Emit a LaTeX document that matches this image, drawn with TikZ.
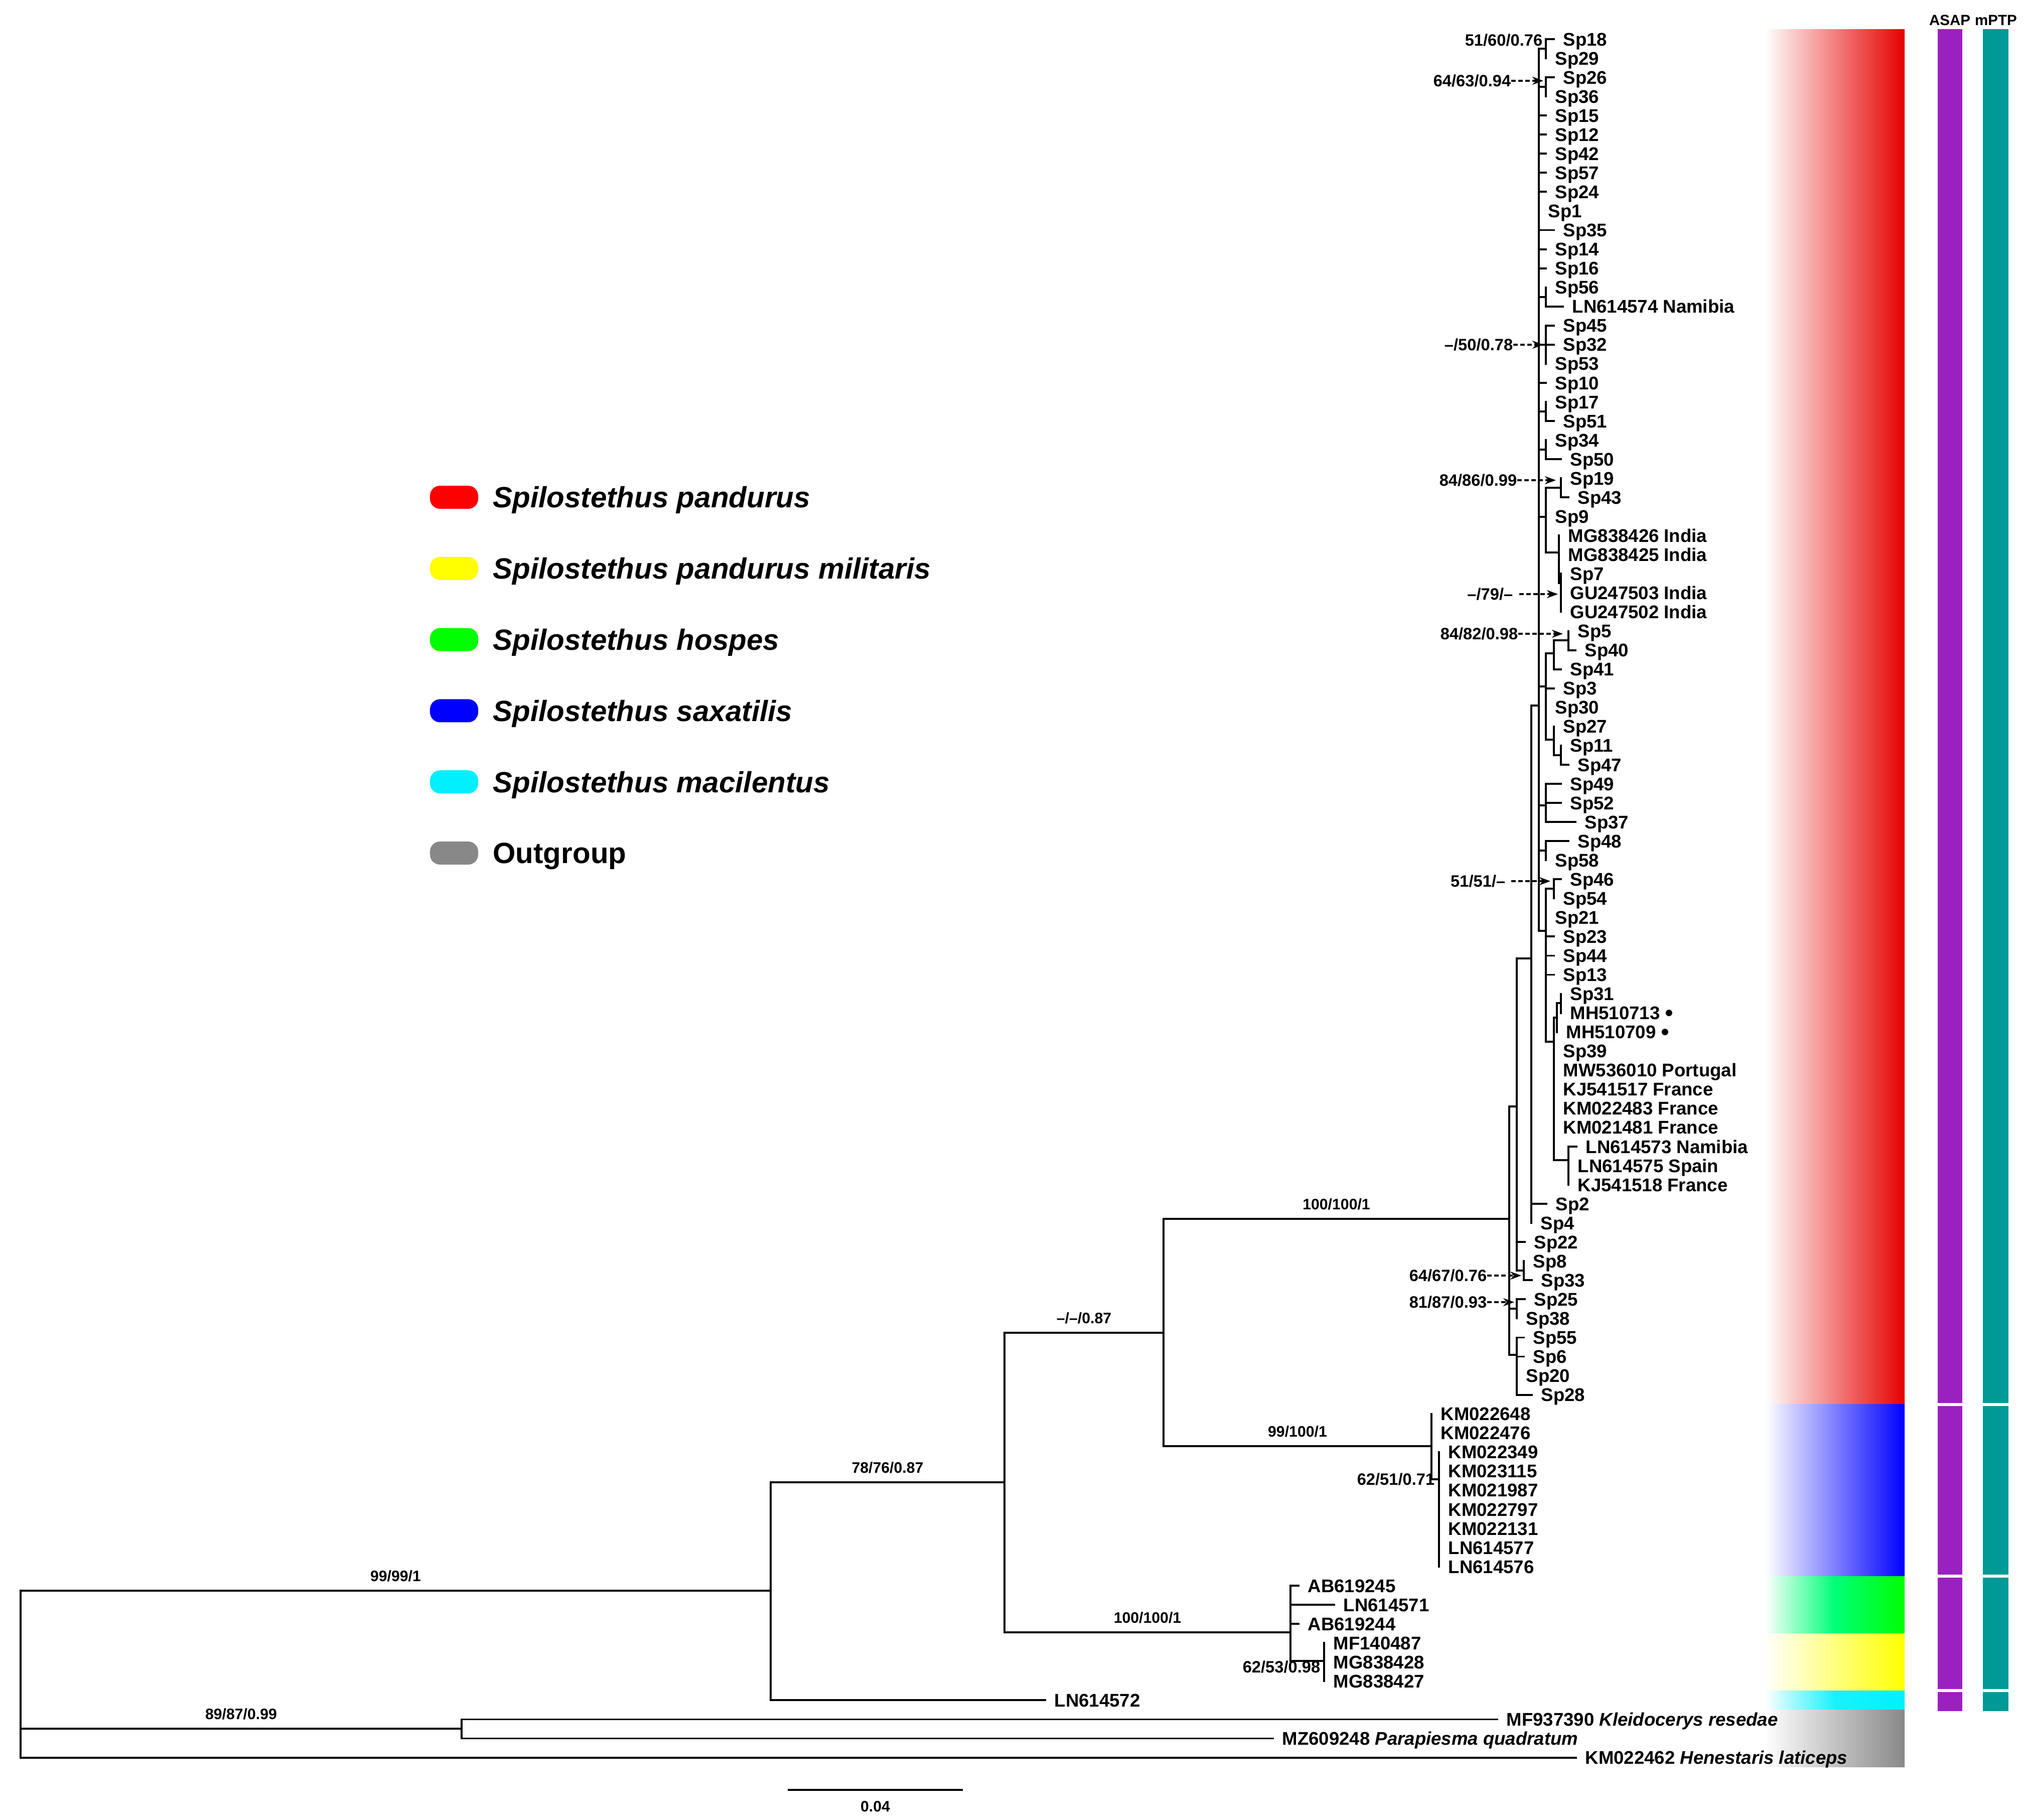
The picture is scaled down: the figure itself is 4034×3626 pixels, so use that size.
\documentclass[tikz,border=0pt]{standalone}
\usepackage{fontspec}
\setmainfont{Liberation Sans}
\usetikzlibrary{arrows.meta,positioning}

\definecolor{pandred}{RGB}{230,0,0}
\definecolor{saxblue}{RGB}{0,0,255}
\definecolor{hosgreen}{RGB}{0,255,0}
\definecolor{hosmid}{RGB}{0,255,120}
\definecolor{milyellow}{RGB}{255,255,0}
\definecolor{maccyan}{RGB}{0,240,255}
\definecolor{outgray}{RGB}{136,136,136}
\definecolor{legred}{RGB}{255,0,0}
\definecolor{asappurple}{RGB}{155,32,192}
\definecolor{mptpteal}{RGB}{0,154,150}

\newcommand{\leaffont}{\fontsize{10.4}{12}\selectfont\bfseries}
\newcommand{\supfont}{\fontsize{9.3}{11}\selectfont\bfseries}
\newcommand{\brfont}{\fontsize{8.6}{10}\selectfont\bfseries}
\newcommand{\legfont}{\fontsize{16.6}{19}\selectfont\bfseries}
\newcommand{\hdrfont}{\fontsize{8.4}{10}\selectfont\bfseries}

\tikzset{
	branch/.style={line width=1.1pt, line cap=rect},
	leaflab/.style={anchor=west, inner xsep=0.18cm, inner ysep=0pt, font=\leaffont, text height=9pt, text depth=1.55pt},
	suplab/.style={anchor=east, inner sep=0pt, font=\supfont, text height=6.7pt, text depth=0pt},
	brlab/.style={inner sep=0pt, font=\brfont, text height=6.2pt, text depth=0pt, above=0.17cm},
	suparrow/.style={line width=0.95pt, dash pattern=on 2.5pt off 1.5pt, -{Stealth[length=0.22cm, width=0.16cm]}},
	dotmark/.style={circle, fill=black, inner sep=0pt, minimum size=0.13cm},
	pill/.style={rounded corners=0.2cm, minimum width=0.96cm, minimum height=0.46cm, inner sep=0pt},
	legtext/.style={inner sep=0pt, font=\legfont, text height=11.9pt, text depth=0pt},
	hdrlab/.style={inner sep=0pt, font=\hdrfont}
}

\newcommand{\leaf}[4]{%
	\coordinate (#1) at (#2,{ry(#3)});
	\node[leaflab] (#1l) at (#1) {#4};%
}

\begin{document}
\begin{tikzpicture}[x=0.01cm, y=-0.01cm, declare function={ry(\k)=78+(\k-1)*38.05;}]
	\useasboundingbox (0,0) rectangle (4034,3626);

	\shade[left color=white, right color=pandred] (3517,58) rectangle (3796,2798.5);
	\shade[left color=white, right color=saxblue] (3517,2798.5) rectangle (3796,3141);
	\shade[left color=white, right color=hosgreen, middle color=hosmid] (3517,3141) rectangle (3796,3255);
	\shade[left color=white, right color=milyellow] (3517,3255) rectangle (3796,3369);
	\shade[left color=white, right color=maccyan, middle color=maccyan!90!white] (3517,3369) rectangle (3796,3407);
	\shade[left color=white, right color=outgray] (3517,3407) rectangle (3796,3521.5);

	\foreach \ya/\yb in {58/2795.5, 2801.5/3138, 3144/3366, 3372/3410} {
		\fill[asappurple] (3862,\ya) rectangle (3911,\yb);
		\fill[mptpteal] (3952,\ya) rectangle (4003,\yb);
	}
	\node[hdrlab] (asap) at (3886,40) {ASAP};
	\node[hdrlab] (mptp) at (3978,40) {mPTP};

	\foreach \col/\lab [count=\i] in {legred/\itshape Spilostethus pandurus, milyellow/\itshape Spilostethus pandurus militaris, hosgreen/\itshape Spilostethus hospes, saxblue/\itshape Spilostethus saxatilis, maccyan/\itshape Spilostethus macilentus, outgray/Outgroup} {
		\node[pill, fill=\col] (pill\i) at (905,{991+(\i-1)*141.8}) {};
		\node[legtext, right=0.28cm of pill\i] (legend\i) {\lab};
	}

	\coordinate (root) at (41,3336);
	\coordinate (ingrp) at (1536,3170);
	\coordinate (ogrp) at (920,3445);
	\coordinate (nb) at (2002,2954);
	\coordinate (nc) at (2319,2656);
	\coordinate (hm) at (2572,3253);
	\coordinate (mil) at (2639,3310);
	\coordinate (sax) at (2853,2882);
	\coordinate (sax2) at (2868,2948);
	\coordinate (pand) at (3008,2429);
	\coordinate (p1) at (3023,2205);
	\coordinate (p2) at (3052,1910);
	\coordinate (p3) at (3067,1406);
	\coordinate (p4) at (3081,1855);
	\coordinate (p5) at (3097,2076);
	\coordinate (c833) at (3037,2532);
	\coordinate (c2538) at (3023,2608);
	\coordinate (c5528) at (3023,2700);
	\coordinate (c1829) at (3081,97);
	\coordinate (c2636) at (3081,173);
	\coordinate (c5674) at (3081,592);
	\coordinate (c4553) at (3081,687);
	\coordinate (c1751) at (3081,820);
	\coordinate (c3450) at (3081,896);
	\coordinate (cq) at (3081,1030);
	\coordinate (c1943) at (3111,972);
	\coordinate (cind) at (3107,1101);
	\coordinate (cind2) at (3111,1162);
	\coordinate (cr) at (3081,1368);
	\coordinate (cr1) at (3097,1302);
	\coordinate (cr11) at (3126,1276);
	\coordinate (cr2) at (3097,1474);
	\coordinate (cr21) at (3111,1505);
	\coordinate (c4937) at (3081,1605);
	\coordinate (c4858) at (3081,1695);
	\coordinate (c4654) at (3097,1771);
	\coordinate (cmh) at (3103,2028);
	\coordinate (cmh1) at (3111,1999);
	\coordinate (cln3) at (3126,2312);

	\foreach \nm/\xx/\rw/\lab in {sp18/3097/1/Sp18, sp29/3081/2/Sp29, sp26/3097/3/Sp26, sp36/3081/4/Sp36, sp15/3081/5/Sp15, sp12/3081/6/Sp12, sp42/3081/7/Sp42, sp57/3081/8/Sp57, sp24/3081/9/Sp24, sp1/3067/10/Sp1, sp35/3097/11/Sp35, sp14/3081/12/Sp14, sp16/3081/13/Sp16, sp56/3081/14/Sp56, ln614574/3115/15/LN614574 Namibia, sp45/3097/16/Sp45, sp32/3097/17/Sp32, sp53/3081/18/Sp53, sp10/3081/19/Sp10, sp17/3081/20/Sp17, sp51/3097/21/Sp51, sp34/3081/22/Sp34, sp50/3111/23/Sp50, sp19/3111/24/Sp19, sp43/3126/25/Sp43, sp9/3081/26/Sp9, mg838426/3107/27/MG838426 India, mg838425/3107/28/MG838425 India, sp7/3111/29/Sp7, gu247503/3111/30/GU247503 India, gu247502/3111/31/GU247502 India}
		{\leaf{\nm}{\xx}{\rw}{\lab}}
	\foreach \nm/\xx/\rw/\lab in {sp5/3126/32/Sp5, sp40/3140/33/Sp40, sp41/3111/34/Sp41, sp3/3097/35/Sp3, sp30/3081/36/Sp30, sp27/3097/37/Sp27, sp11/3111/38/Sp11, sp47/3126/39/Sp47, sp49/3111/40/Sp49, sp52/3111/41/Sp52, sp37/3140/42/Sp37, sp48/3126/43/Sp48, sp58/3081/44/Sp58, sp46/3111/45/Sp46, sp54/3097/46/Sp54, sp21/3081/47/Sp21, sp23/3097/48/Sp23, sp44/3097/49/Sp44, sp13/3097/50/Sp13, sp31/3111/51/Sp31, mh713/3111/52/MH510713, mh709/3103/53/MH510709, sp39/3097/54/Sp39, mw536010/3097/55/MW536010 Portugal, kj541517/3097/56/KJ541517 France, km022483/3097/57/KM022483 France, km021481/3097/58/KM021481 France, ln614573/3142/59/LN614573 Namibia, ln614575/3126/60/LN614575 Spain, kj541518/3126/61/KJ541518 France}
		{\leaf{\nm}{\xx}{\rw}{\lab}}
	\foreach \nm/\xx/\rw/\lab in {sp2/3082/62/Sp2, sp4/3052/63/Sp4, sp22/3039/64/Sp22, sp8/3037/65/Sp8, sp33/3053/66/Sp33, sp25/3039/67/Sp25, sp38/3023/68/Sp38, sp55/3037/69/Sp55, sp6/3037/70/Sp6, sp20/3023/71/Sp20, sp28/3053/72/Sp28}
		{\leaf{\nm}{\xx}{\rw}{\lab}}
	\foreach \nm/\xx/\rw/\lab in {km022648/2853/73/KM022648, km022476/2853/74/KM022476, km022349/2868/75/KM022349, km023115/2868/76/KM023115, km021987/2868/77/KM021987, km022797/2868/78/KM022797, km022131/2868/79/KM022131, ln614577/2868/80/LN614577, ln614576/2868/81/LN614576, ab619245/2588/82/AB619245, ln614571/2659/83/LN614571, ab619244/2588/84/AB619244, mf140487/2639/85/MF140487, mg838428/2639/86/MG838428, mg838427/2639/87/MG838427, ln614572/2083/88/LN614572, mf937390/2984/89/MF937390 \textit{Kleidocerys resedae}, mz609248/2537/90/MZ609248 \textit{Parapiesma quadratum}, km022462/3141/91/KM022462 \textit{Henestaris laticeps}}
		{\leaf{\nm}{\xx}{\rw}{\lab}}

	\node[dotmark] (dot713) at ([xshift=-0.01cm]mh713l.east) {};
	\node[dotmark] (dot709) at ([xshift=-0.01cm]mh709l.east) {};

	\draw[branch] (root) |- (ingrp) node[brlab, pos=0.75] (b9999) {99/99/1};
	\draw[branch] (root) |- (ogrp) node[brlab, pos=0.75] (b8987) {89/87/0.99};
	\draw[branch] (root) |- (km022462);
	\draw[branch] (ingrp) |- (nb) node[brlab, pos=0.75] (b7876) {78/76/0.87};
	\draw[branch] (ingrp) |- (ln614572);
	\draw[branch] (nb) |- (nc) node[brlab, pos=0.75] (b087) {–/–/0.87};
	\draw[branch] (nb) |- (hm) node[brlab, pos=0.75] (bhos) {100/100/1};
	\draw[branch] (nc) |- (pand) node[brlab, pos=0.75] (bpand) {100/100/1};
	\draw[branch] (nc) |- (sax) node[brlab, pos=0.75] (bsax) {99/100/1};
	\foreach \ch in {mf937390,mz609248} \draw[branch] (ogrp) |- (\ch);
	\foreach \ch in {ab619245,ln614571,ab619244,mil} \draw[branch] (hm) |- (\ch);
	\foreach \ch in {mf140487,mg838428,mg838427} \draw[branch] (mil) |- (\ch);
	\foreach \ch in {km022648,km022476,sax2} \draw[branch] (sax) |- (\ch);
	\foreach \ch in {km022349,km023115,km021987,km022797,km022131,ln614577,ln614576} \draw[branch] (sax2) |- (\ch);

	\foreach \ch in {p1,c2538,c5528} \draw[branch] (pand) |- (\ch);
	\foreach \ch in {p2,sp22,c833} \draw[branch] (p1) |- (\ch);
	\foreach \ch in {sp8,sp33} \draw[branch] (c833) |- (\ch);
	\foreach \ch in {sp25,sp38} \draw[branch] (c2538) |- (\ch);
	\foreach \ch in {sp55,sp6,sp20,sp28} \draw[branch] (c5528) |- (\ch);
	\foreach \ch in {p3,sp2,sp4} \draw[branch] (p2) |- (\ch);
	\foreach \ch in {c1829,c2636,sp15,sp12,sp42,sp57,sp24,sp1,sp35,sp14,sp16,c5674,c4553,sp10,c1751,c3450,cq,cr,c4937,c4858,p4} \draw[branch] (p3) |- (\ch);
	\foreach \ch in {sp18,sp29} \draw[branch] (c1829) |- (\ch);
	\foreach \ch in {sp26,sp36} \draw[branch] (c2636) |- (\ch);
	\foreach \ch in {sp56,ln614574} \draw[branch] (c5674) |- (\ch);
	\foreach \ch in {sp45,sp32,sp53} \draw[branch] (c4553) |- (\ch);
	\foreach \ch in {sp17,sp51} \draw[branch] (c1751) |- (\ch);
	\foreach \ch in {sp34,sp50} \draw[branch] (c3450) |- (\ch);
	\foreach \ch in {c1943,sp9,cind} \draw[branch] (cq) |- (\ch);
	\foreach \ch in {sp19,sp43} \draw[branch] (c1943) |- (\ch);
	\foreach \ch in {mg838426,mg838425,cind2} \draw[branch] (cind) |- (\ch);
	\foreach \ch in {sp7,gu247503,gu247502} \draw[branch] (cind2) |- (\ch);
	\foreach \ch in {cr1,sp3,sp30,cr2} \draw[branch] (cr) |- (\ch);
	\foreach \ch in {cr11,sp41} \draw[branch] (cr1) |- (\ch);
	\foreach \ch in {sp5,sp40} \draw[branch] (cr11) |- (\ch);
	\foreach \ch in {sp27,cr21} \draw[branch] (cr2) |- (\ch);
	\foreach \ch in {sp11,sp47} \draw[branch] (cr21) |- (\ch);
	\foreach \ch in {sp49,sp52,sp37} \draw[branch] (c4937) |- (\ch);
	\foreach \ch in {sp48,sp58} \draw[branch] (c4858) |- (\ch);
	\foreach \ch in {c4654,sp21,sp23,sp44,sp13,p5} \draw[branch] (p4) |- (\ch);
	\foreach \ch in {sp46,sp54} \draw[branch] (c4654) |- (\ch);
	\foreach \ch in {cmh,sp39,mw536010,kj541517,km022483,km021481,cln3} \draw[branch] (p5) |- (\ch);
	\foreach \ch in {cmh1,mh709} \draw[branch] (cmh) |- (\ch);
	\foreach \ch in {sp31,mh713} \draw[branch] (cmh1) |- (\ch);
	\foreach \ch in {ln614573,ln614575,kj541518} \draw[branch] (cln3) |- (\ch);

	\node[suplab] (s5160) at (3075,80) {51/60/0.76};
	\node[suplab] (s6251) at ([xshift=-0.08cm]sax2) {62/51/0.71};
	\node[suplab] (s6253) at (2632,3322) {62/53/0.98};

	\node[suplab] (a6463) at (3012,161) {64/63/0.94};
	\draw[suparrow] (a6463.east) -- ([xshift=-0.05cm]a6463.east -| c2636);
	\node[suplab] (a5078) at (3016,687) {–/50/0.78};
	\draw[suparrow] (a5078.east) -- ([xshift=-0.05cm]a5078.east -| c4553);
	\node[suplab] (a8486) at (3024,957) {84/86/0.99};
	\draw[suparrow] (a8486.east) -- ([xshift=-0.1cm]a8486.east -| c1943);
	\node[suplab] (a79) at (3016,1184) {–/79/–};
	\draw[suparrow] ([xshift=0.12cm]a79.east) -- ([xshift=-0.06cm]a79.east -| cind2);
	\node[suplab] (a8482) at (3026,1263) {84/82/0.98};
	\draw[suparrow] (a8482.east) -- ([xshift=-0.11cm]a8482.east -| cr11);
	\node[suplab] (a5151) at (3001,1756) {51/51/–};
	\draw[suparrow] ([xshift=0.11cm]a5151.east) -- ([xshift=-0.07cm]a5151.east -| c4654);
	\node[suplab] (a6467) at (2964,2542) {64/67/0.76};
	\draw[suparrow] (a6467.east) -- ([xshift=-0.05cm]a6467.east -| c833);
	\node[suplab] (a8187) at (2964,2595) {81/87/0.93};
	\draw[suparrow] (a8187.east) -- ([xshift=-0.05cm]a8187.east -| c2538);

	\coordinate (sbl) at (1572,3567);
	\coordinate (sbr) at (1917,3567);
	\draw[branch] (sbl) -- (sbr) node[brlab, midway, below=0.2cm] (sbtext) {0.04};
\end{tikzpicture}
\end{document}
